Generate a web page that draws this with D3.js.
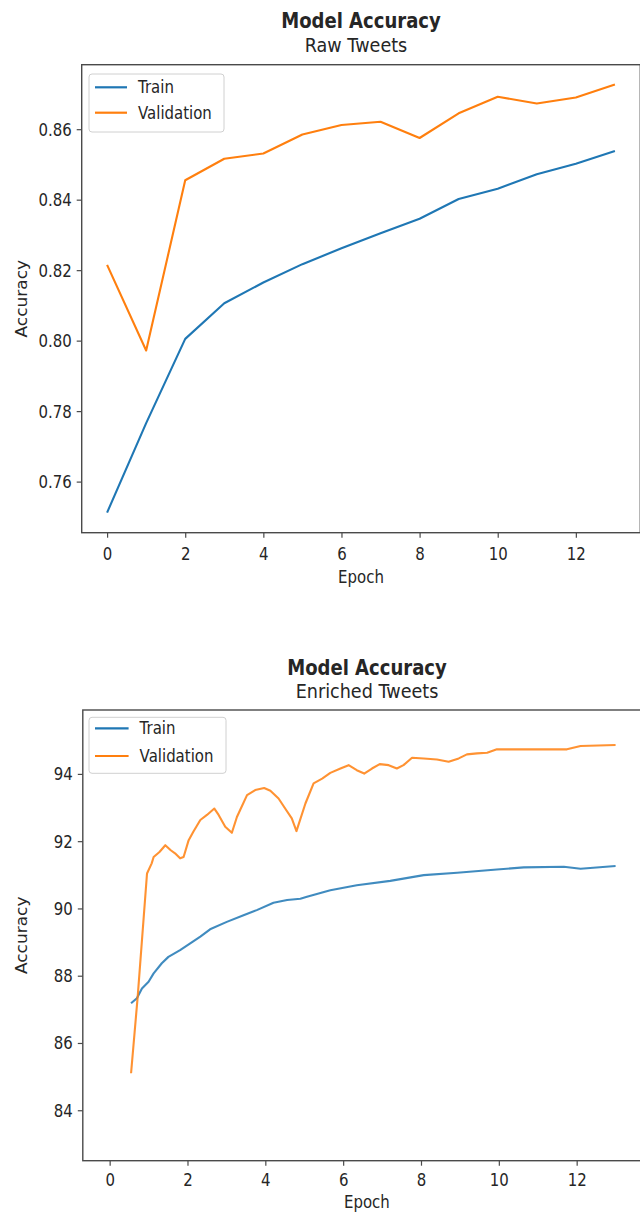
<!DOCTYPE html>
<html>
<head>
<meta charset="utf-8">
<script src="https://cdn.jsdelivr.net/npm/d3@7"></script>
<style>
  html, body { margin: 0; padding: 0; background: #fff; }
  svg { display: block; }
</style>
</head>
<body>
<svg id="chart" width="640" height="1214"></svg>
<script>
// ---- Raw tweets: one accuracy value per epoch ----
const rawEpochs = [0, 1, 2, 3, 4, 5, 6, 7, 8, 9, 10, 11, 12, 13];
const rawTrain = [0.7512, 0.7766, 0.8005, 0.8106, 0.8165, 0.8217, 0.8262, 0.8305, 0.8346, 0.8402, 0.8431, 0.8472, 0.8502, 0.8538];
const rawValidation = [0.8215, 0.7972, 0.8455, 0.8516, 0.8531, 0.8585, 0.8612, 0.8621, 0.8575, 0.8645, 0.8692, 0.8673, 0.8690, 0.8727];
const rawXTicks = [0, 2, 4, 6, 8, 10, 12];
const rawYTicks = [0.76, 0.78, 0.80, 0.82, 0.84, 0.86];

// ---- Enriched tweets: accuracy logged at fractional epochs ----
const enrichedTrainEpochs = [0.55, 0.70, 0.83, 1.00, 1.13, 1.34, 1.51, 1.81, 2.07, 2.33, 2.58, 3.01, 3.44, 3.78, 4.21, 4.56, 4.90, 5.07, 5.67, 6.35, 7.21, 8.07, 8.93, 9.95, 10.64, 11.67, 12.10, 13.00];
const enrichedTrain = [87.18, 87.33, 87.62, 87.82, 88.07, 88.37, 88.56, 88.76, 88.96, 89.16, 89.38, 89.60, 89.80, 89.95, 90.17, 90.25, 90.29, 90.35, 90.54, 90.69, 90.82, 90.99, 91.06, 91.16, 91.22, 91.24, 91.18, 91.26];
const enrichedValEpochs = [0.55, 0.72, 0.96, 1.08, 1.13, 1.28, 1.43, 1.57, 1.68, 1.81, 1.90, 2.03, 2.15, 2.33, 2.50, 2.69, 2.80, 2.97, 3.14, 3.27, 3.35, 3.53, 3.74, 3.97, 4.13, 4.34, 4.51, 4.68, 4.80, 5.03, 5.24, 5.46, 5.67, 5.93, 6.14, 6.35, 6.54, 6.74, 6.94, 7.17, 7.38, 7.55, 7.77, 8.07, 8.41, 8.71, 8.97, 9.18, 9.44, 9.70, 9.95, 10.72, 11.75, 12.10, 13.00];
const enrichedValidation = [85.10, 87.37, 91.04, 91.34, 91.53, 91.68, 91.88, 91.73, 91.64, 91.49, 91.53, 92.03, 92.28, 92.63, 92.78, 92.97, 92.78, 92.43, 92.25, 92.72, 92.92, 93.37, 93.52, 93.58, 93.50, 93.27, 92.97, 92.68, 92.30, 93.12, 93.72, 93.86, 94.03, 94.16, 94.26, 94.11, 94.01, 94.16, 94.29, 94.26, 94.16, 94.26, 94.48, 94.46, 94.43, 94.36, 94.46, 94.58, 94.61, 94.63, 94.73, 94.73, 94.73, 94.83, 94.86];
const enrichedXTicks = [0, 2, 4, 6, 8, 10, 12];
const enrichedYTicks = [84, 86, 88, 90, 92, 94];

const seriesNames = ["Train", "Validation"];
const seriesColors = ["#1f77b4", "#ff7f0e"];
const chartTitle = "Model Accuracy";
const xLabel = "Epoch";
const yLabel = "Accuracy";

// ---- drawing ----
const FONT = "DejaVu Sans, Verdana, sans-serif";
const SQUEEZE = 0.88;          // glyphs are drawn slightly narrow
const TEXT_COLOR = "#262626";
const SPINE_COLOR = "#4a4a4a";

const svg = d3.select("#chart");

function squeezedText(g, x, y, str, opts = {}) {
  const t = g.append("text")
    .attr("transform", `translate(${x},${y}) scale(${SQUEEZE},1)`)
    .attr("font-family", FONT)
    .attr("font-size", opts.size || 17)
    .attr("font-weight", opts.weight || "normal")
    .attr("text-anchor", opts.anchor || "start")
    .attr("fill", TEXT_COLOR)
    .text(str);
  return t;
}

function drawPanel(p) {
  const g = svg.append("g");
  const x = d3.scaleLinear().domain(p.xDomain).range([p.left, p.right]);
  const y = d3.scaleLinear().domain(p.yDomain).range([p.bottom, p.top]);

  // titles
  squeezedText(g, p.titleX, p.titleY, chartTitle, { size: 20.5, weight: "bold", anchor: "middle" });
  squeezedText(g, p.subX, p.subY, p.subtitle, { size: 20, anchor: "middle" });

  // x axis ticks
  const xAxis = g.append("g")
    .attr("transform", `translate(0,${p.bottom})`)
    .call(d3.axisBottom(x).tickValues(p.xTicks).tickSize(5).tickSizeOuter(0).tickFormat(d3.format("d")));
  xAxis.select(".domain").remove();
  xAxis.selectAll(".tick line").attr("stroke", SPINE_COLOR).attr("stroke-width", 1.2);
  xAxis.selectAll(".tick text")
    .attr("y", 0).attr("dy", null)
    .attr("transform", `translate(0,${p.xTickBaseline}) scale(${SQUEEZE},1)`)
    .attr("font-family", FONT).attr("font-size", 17).attr("fill", TEXT_COLOR);

  // y axis ticks
  const yAxis = g.append("g")
    .attr("transform", `translate(${p.left},0)`)
    .call(d3.axisLeft(y).tickValues(p.yTicks).tickSize(5).tickSizeOuter(0).tickFormat(d3.format(p.yFormat)));
  yAxis.select(".domain").remove();
  yAxis.selectAll(".tick line").attr("stroke", SPINE_COLOR).attr("stroke-width", 1.2);
  yAxis.selectAll(".tick text")
    .attr("x", 0).attr("dy", null)
    .attr("transform", `translate(-10,6) scale(${SQUEEZE},1)`)
    .attr("font-family", FONT).attr("font-size", 17).attr("fill", TEXT_COLOR);

  // axis labels
  squeezedText(g, (p.left + p.right) / 2, p.bottom + p.xLabelOffset, xLabel, { anchor: "middle" });
  g.append("text")
    .attr("transform", `translate(${p.yLabelX},${(p.top + p.bottom) / 2}) rotate(-90) scale(1,${SQUEEZE})`)
    .attr("font-family", FONT).attr("font-size", 17).attr("fill", TEXT_COLOR)
    .attr("text-anchor", "middle")
    .text(yLabel);

  // series lines
  const line = d3.line().x(d => x(d[0])).y(d => y(d[1]));
  p.series.forEach((s, i) => {
    const pts = s.epochs.map((e, k) => [e, s.values[k]]);
    g.append("path")
      .datum(pts)
      .attr("fill", "none")
      .attr("stroke", seriesColors[i])
      .attr("stroke-width", p.lineWidth)
      .attr("stroke-opacity", p.lineOpacity)
      .attr("stroke-linejoin", "round")
      .attr("stroke-linecap", "butt")
      .attr("d", line);
  });

  // frame
  g.append("rect")
    .attr("x", p.left).attr("y", p.top)
    .attr("width", p.right - p.left).attr("height", p.bottom - p.top)
    .attr("fill", "none").attr("stroke", SPINE_COLOR).attr("stroke-width", 1.4);

  // legend
  const L = p.legend;
  g.append("rect")
    .attr("x", L.x).attr("y", L.y).attr("width", L.w).attr("height", L.h)
    .attr("rx", 3).attr("fill", "#fff").attr("fill-opacity", 0.8)
    .attr("stroke", "#d0d0d0").attr("stroke-width", 1);
  seriesNames.forEach((name, i) => {
    const ry = L.rows[i];
    g.append("line")
      .attr("x1", L.lineX1).attr("x2", L.lineX2).attr("y1", ry).attr("y2", ry)
      .attr("stroke", seriesColors[i]).attr("stroke-width", 2.2);
    squeezedText(g, L.textX, ry + 6, name);
  });
}

drawPanel({
  subtitle: "Raw Tweets",
  left: 81.7, right: 640.3, top: 64.7, bottom: 532.7,
  xDomain: [-0.65, 13.65], yDomain: [0.7455, 0.8783],
  xTicks: rawXTicks, yTicks: rawYTicks, yFormat: ".2f",
  titleX: 361, titleY: 28.3, subX: 356, subY: 52.3,
  xTickBaseline: 27.5, xLabelOffset: 50, yLabelX: 27,
  lineWidth: 2.1, lineOpacity: 1,
  series: [
    { epochs: rawEpochs, values: rawTrain },
    { epochs: rawEpochs, values: rawValidation }
  ],
  legend: { x: 89, y: 74, w: 135, h: 58, rows: [87.3, 112.7], lineX1: 95, lineX2: 127, textX: 138 }
});

drawPanel({
  subtitle: "Enriched Tweets",
  left: 82.8, right: 651, top: 710, bottom: 1160.7,
  xDomain: [-0.69, 13.91], yDomain: [82.5, 95.9],
  xTicks: enrichedXTicks, yTicks: enrichedYTicks, yFormat: "d",
  titleX: 367, titleY: 675, subX: 367, subY: 698.3,
  xTickBaseline: 25.5, xLabelOffset: 47.5, yLabelX: 27,
  lineWidth: 2.1, lineOpacity: 0.85,
  series: [
    { epochs: enrichedTrainEpochs, values: enrichedTrain },
    { epochs: enrichedValEpochs, values: enrichedValidation }
  ],
  legend: { x: 89, y: 717.3, w: 137, h: 56, rows: [728.3, 756], lineX1: 95, lineX2: 128.6, textX: 139.6 }
});
</script>
</body>
</html>
